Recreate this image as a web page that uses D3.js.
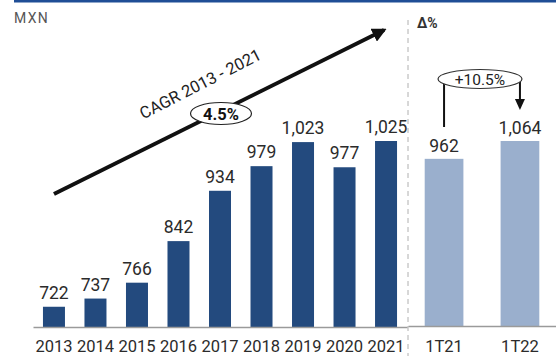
<!DOCTYPE html>
<html>
<head>
<meta charset="utf-8">
<script src="https://cdn.jsdelivr.net/npm/d3@7"></script>
<style>
  body { margin: 0; background: #fff; }
  svg { display: block; font-family: Roboto, sans-serif; }
  .val { font-size: 17.5px; fill: #2b2b2b; text-anchor: middle; }
  .axis text { font-size: 16.5px; fill: #2b2b2b; }
</style>
</head>
<body>
<div id="chart"></div>
<script>
// yearly values
const years = ['2013', '2014', '2015', '2016', '2017', '2018', '2019', '2020', '2021'];
const yearValues = [722, 737, 766, 842, 934, 979, 1023, 977, 1025];
// quarter comparison
const quarters = ['1T21', '1T22'];
const quarterValues = [962, 1064];
const cagrLabel = 'CAGR 2013 - 2021';
const cagrValue = '4.5%';
const quarterGrowth = '+10.5%';

const W = 556, H = 356;
const baseY = 327;

const svg = d3.select('#chart').append('svg')
  .attr('width', W)
  .attr('height', H);

const defs = svg.append('defs');
defs.append('marker')
  .attr('id', 'arrow')
  .attr('viewBox', '0 0 10 10')
  .attr('refX', 8).attr('refY', 5)
  .attr('markerWidth', 3.6).attr('markerHeight', 3.6)
  .attr('markerUnits', 'strokeWidth')
  .attr('orient', 'auto')
  .append('path')
  .attr('d', 'M0,0 L10,5 L0,10 Z')
  .attr('fill', '#111');

// top rule
svg.append('rect')
  .attr('x', 14).attr('y', 0)
  .attr('width', W - 14).attr('height', 2.5)
  .attr('fill', '#1f4e96');

svg.append('text')
  .attr('x', 14).attr('y', 23)
  .style('font-size', '14px')
  .style('letter-spacing', '1.3px')
  .attr('fill', '#555')
  .text('MXN');

svg.append('text')
  .attr('x', 417).attr('y', 28)
  .style('font-size', '14px')
  .style('font-weight', 'bold')
  .attr('fill', '#333')
  .text('Δ%');

// scales
const xYear = d3.scaleBand()
  .domain(years)
  .range([33, 407])
  .paddingInner(0.47)
  .paddingOuter(0.24);

const yYear = d3.scaleLinear()
  .domain([685, 1025])
  .range([baseY, 141]);

const xQ = d3.scaleBand()
  .domain(quarters)
  .range([408, 556])
  .paddingInner(0.49)
  .paddingOuter(0.22);

const yQ = d3.scaleLinear()
  .domain([0, 1064])
  .range([baseY, 141]);

const fmt = d3.format(',');

// separator
svg.append('line')
  .attr('x1', 408).attr('x2', 408)
  .attr('y1', 20).attr('y2', H)
  .attr('stroke', '#b0b0b0')
  .attr('stroke-width', 1)
  .attr('stroke-dasharray', '5,4');

// yearly bars
const yearData = years.map((y, i) => ({ k: y, v: yearValues[i] }));
svg.append('g').selectAll('rect')
  .data(yearData)
  .enter().append('rect')
  .attr('x', d => xYear(d.k))
  .attr('y', d => yYear(d.v))
  .attr('width', xYear.bandwidth())
  .attr('height', d => baseY - yYear(d.v))
  .attr('fill', '#234a7e');

svg.append('g').selectAll('text')
  .data(yearData)
  .enter().append('text')
  .attr('class', 'val')
  .attr('x', d => xYear(d.k) + xYear.bandwidth() / 2)
  .attr('y', d => yYear(d.v) - 8)
  .text(d => fmt(d.v));

// quarter bars
const qData = quarters.map((q, i) => ({ k: q, v: quarterValues[i] }));
svg.append('g').selectAll('rect')
  .data(qData)
  .enter().append('rect')
  .attr('x', d => xQ(d.k))
  .attr('y', d => yQ(d.v))
  .attr('width', xQ.bandwidth())
  .attr('height', d => baseY - yQ(d.v))
  .attr('fill', '#9aafcd');

svg.append('g').selectAll('text')
  .data(qData)
  .enter().append('text')
  .attr('class', 'val')
  .attr('x', d => xQ(d.k) + xQ.bandwidth() / 2)
  .attr('y', d => yQ(d.v) - 7)
  .text(d => fmt(d.v));

// axes
function styleAxis(g) {
  g.select('.domain').attr('stroke', '#9a9a9a').attr('stroke-width', 1.5);
  g.selectAll('.tick line').remove();
  g.selectAll('text').attr('font-family', 'Roboto, sans-serif');
}
svg.append('g')
  .attr('class', 'axis')
  .attr('transform', `translate(0,${baseY})`)
  .call(d3.axisBottom(xYear).tickSize(0).tickPadding(13))
  .call(styleAxis);

svg.append('g')
  .attr('class', 'axis')
  .attr('transform', `translate(0,${baseY - 1})`)
  .call(d3.axisBottom(xQ).tickSize(0).tickPadding(14))
  .call(styleAxis);

// CAGR arrow
const ax0 = xYear('2013') + xYear.bandwidth() / 2;
const ax1 = xYear('2021') + xYear.bandwidth() / 2;
svg.append('line')
  .attr('x1', ax0).attr('y1', 194)
  .attr('x2', ax1 - 2).attr('y2', 30)
  .attr('stroke', '#111')
  .attr('stroke-width', 4)
  .attr('marker-end', 'url(#arrow)');

svg.append('text')
  .attr('transform', 'translate(203,89) rotate(-27)')
  .attr('text-anchor', 'middle')
  .style('font-size', '16.5px')
  .attr('fill', '#222')
  .text(cagrLabel);

svg.append('ellipse')
  .attr('cx', 221).attr('cy', 113.5)
  .attr('rx', 30.5).attr('ry', 11)
  .attr('fill', '#fff')
  .attr('stroke', '#222')
  .attr('stroke-width', 1.2);

svg.append('text')
  .attr('x', 221).attr('y', 119.5)
  .attr('text-anchor', 'middle')
  .style('font-size', '16.5px')
  .style('font-weight', 'bold')
  .attr('fill', '#111')
  .text(cagrValue);

// quarter growth annotation
const qx0 = xQ('1T21') + xQ.bandwidth() / 2;
const qx1 = xQ('1T22') + xQ.bandwidth() / 2;
svg.append('line')
  .attr('x1', qx0).attr('x2', qx0)
  .attr('y1', 82).attr('y2', 127)
  .attr('stroke', '#111').attr('stroke-width', 2);

svg.append('line')
  .attr('x1', qx1).attr('x2', qx1)
  .attr('y1', 82).attr('y2', 101)
  .attr('stroke', '#111').attr('stroke-width', 2);

svg.append('path')
  .attr('d', `M${qx1 - 5},${99} L${qx1 + 5},${99} L${qx1},${110} Z`)
  .attr('fill', '#111');

svg.append('ellipse')
  .attr('cx', 480).attr('cy', 79)
  .attr('rx', 42).attr('ry', 9.5)
  .attr('fill', '#fff')
  .attr('stroke', '#333')
  .attr('stroke-width', 1.2);

svg.append('text')
  .attr('x', 480).attr('y', 84.5)
  .attr('text-anchor', 'middle')
  .style('font-size', '15.5px')
  .attr('fill', '#222')
  .text(quarterGrowth);
</script>
</body>
</html>
